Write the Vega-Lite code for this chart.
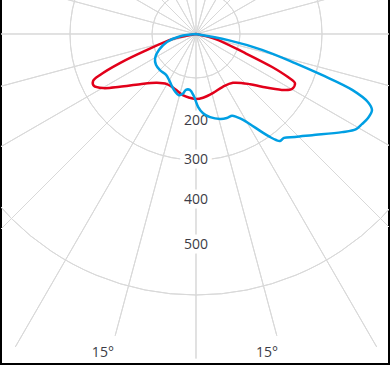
{
  "$schema": "https://vega.github.io/schema/vega-lite/v6.json",
  "width": 388,
  "height": 375,
  "autosize": {"type": "none"},
  "padding": {"left": 1, "top": -11, "right": 1, "bottom": 26},
  "background": "white",
  "config": {"view": {"stroke": "#000000", "strokeWidth": 2}},
  "datasets": {
    "rings": [{"ring": 100}, {"ring": 200}, {"ring": 300}, {"ring": 400}, {"ring": 500}, {"ring": 600}, {"ring": 700}, {"ring": 800}],
    "spokes": [
      {"deg": -165, "len": 815}, {"deg": -150, "len": 815}, {"deg": -135, "len": 815}, {"deg": -120, "len": 815},
      {"deg": -105, "len": 815}, {"deg": -90, "len": 815}, {"deg": -75, "len": 815}, {"deg": -60, "len": 815},
      {"deg": -45, "len": 815}, {"deg": -30, "len": 815}, {"deg": -15, "len": 715}, {"deg": 0, "len": 740},
      {"deg": 15, "len": 715}, {"deg": 30, "len": 815}, {"deg": 45, "len": 815}, {"deg": 60, "len": 815},
      {"deg": 75, "len": 815}, {"deg": 90, "len": 815}, {"deg": 105, "len": 815}, {"deg": 120, "len": 815},
      {"deg": 135, "len": 815}, {"deg": 150, "len": 815}, {"deg": 165, "len": 815}, {"deg": 180, "len": 815}
    ],
    "ringlabels": [
      {"deg": 0, "ring": 200, "label": "200"},
      {"deg": 0, "ring": 300, "label": "300"},
      {"deg": 0, "ring": 400, "label": "400"},
      {"deg": 0, "ring": 500, "label": "500"}
    ],
    "anglelabels": [
      {"deg": -15, "ring": 725, "label": "15°"},
      {"deg": 15, "ring": 725, "label": "15°"}
    ],
    "red": [
      {"x": 0, "y": 0}, {"x": -52, "y": 11}, {"x": -111, "y": 36}, {"x": -173, "y": 66}, {"x": -218, "y": 93},
      {"x": -234, "y": 107}, {"x": -232, "y": 118}, {"x": -211, "y": 123}, {"x": -173, "y": 120}, {"x": -127, "y": 114},
      {"x": -89, "y": 111}, {"x": -66, "y": 114}, {"x": -48, "y": 125}, {"x": -30, "y": 139}, {"x": -14, "y": 145},
      {"x": 0, "y": 148}, {"x": 16, "y": 145}, {"x": 39, "y": 134}, {"x": 61, "y": 120}, {"x": 84, "y": 111},
      {"x": 123, "y": 114}, {"x": 150, "y": 120}, {"x": 195, "y": 127}, {"x": 218, "y": 125}, {"x": 225, "y": 112},
      {"x": 209, "y": 98}, {"x": 173, "y": 75}, {"x": 111, "y": 43}, {"x": 43, "y": 11}, {"x": 0, "y": 0}
    ],
    "blue": [
      {"x": 0, "y": 0}, {"x": -36, "y": 5}, {"x": -66, "y": 18}, {"x": -84, "y": 36}, {"x": -93, "y": 55},
      {"x": -91, "y": 70}, {"x": -82, "y": 82}, {"x": -68, "y": 93}, {"x": -61, "y": 105}, {"x": -55, "y": 118},
      {"x": -48, "y": 130}, {"x": -39, "y": 139}, {"x": -30, "y": 136}, {"x": -23, "y": 127}, {"x": -14, "y": 127},
      {"x": -5, "y": 141}, {"x": 5, "y": 166}, {"x": 16, "y": 180}, {"x": 32, "y": 189}, {"x": 55, "y": 193},
      {"x": 70, "y": 191}, {"x": 82, "y": 186}, {"x": 93, "y": 189}, {"x": 107, "y": 195}, {"x": 123, "y": 205},
      {"x": 150, "y": 223}, {"x": 168, "y": 234}, {"x": 182, "y": 241}, {"x": 191, "y": 243}, {"x": 200, "y": 236},
      {"x": 225, "y": 234}, {"x": 264, "y": 230}, {"x": 332, "y": 223}, {"x": 364, "y": 216}, {"x": 377, "y": 205},
      {"x": 391, "y": 191}, {"x": 400, "y": 173}, {"x": 391, "y": 155}, {"x": 355, "y": 127}, {"x": 286, "y": 93},
      {"x": 225, "y": 66}, {"x": 150, "y": 36}, {"x": 73, "y": 14}, {"x": 0, "y": 0}
    ]
  },
  "layer": [
    {
      "data": {"name": "rings"},
      "mark": {"type": "arc", "filled": false, "stroke": "#d9d9d9", "strokeWidth": 1, "theta": 0, "theta2": 6.2832, "clip": true},
      "encoding": {
        "x": {"datum": 0, "type": "quantitative", "scale": {"domain": [-443.18, 438.64], "nice": false, "zero": false}, "axis": null},
        "y": {"datum": 0, "type": "quantitative", "scale": {"domain": [-102.27, 750], "reverse": true, "nice": false, "zero": false}, "axis": null},
        "radius": {"field": "ring", "type": "quantitative", "scale": {"type": "linear", "domain": [0, 100, 200, 300, 400, 500, 600, 700, 800], "range": [0, 44, 87, 126, 166, 211, 261, 305, 354], "nice": false, "zero": false}}
      }
    },
    {
      "data": {"name": "spokes"},
      "mark": {"type": "arc", "filled": false, "stroke": "#d9d9d9", "strokeWidth": 1, "clip": true},
      "encoding": {
        "x": {"datum": 0, "type": "quantitative"},
        "y": {"datum": 0, "type": "quantitative"},
        "theta": {"field": "deg", "type": "quantitative", "stack": null, "scale": {"domain": [-180, 180], "range": [6.283185, 0], "nice": false, "zero": false}},
        "theta2": {"field": "deg"},
        "radius": {"field": "len", "type": "quantitative"}
      }
    },
    {
      "data": {"name": "ringlabels"},
      "mark": {"type": "text", "font": "Open Sans", "fontSize": 14, "align": "center", "baseline": "middle", "fill": "white", "stroke": "white", "strokeWidth": 9},
      "encoding": {
        "x": {"datum": 0, "type": "quantitative"},
        "y": {"datum": 0, "type": "quantitative"},
        "theta": {"field": "deg", "type": "quantitative", "stack": null},
        "radius": {"field": "ring", "type": "quantitative"},
        "text": {"field": "label"}
      }
    },
    {
      "data": {"name": "ringlabels"},
      "mark": {"type": "text", "font": "Open Sans", "fontSize": 14, "align": "center", "baseline": "middle", "fill": "#3c3c46"},
      "encoding": {
        "x": {"datum": 0, "type": "quantitative"},
        "y": {"datum": 0, "type": "quantitative"},
        "theta": {"field": "deg", "type": "quantitative", "stack": null},
        "radius": {"field": "ring", "type": "quantitative"},
        "text": {"field": "label"}
      }
    },
    {
      "data": {"name": "anglelabels"},
      "mark": {"type": "text", "font": "Open Sans", "fontSize": 14, "align": "right", "baseline": "middle", "dy": 13, "fill": "#3c3c46"},
      "encoding": {
        "x": {"datum": 0, "type": "quantitative"},
        "y": {"datum": 0, "type": "quantitative"},
        "theta": {"field": "deg", "type": "quantitative", "stack": null},
        "radius": {"field": "ring", "type": "quantitative"},
        "text": {"field": "label"}
      }
    },
    {
      "data": {"name": "red"},
      "mark": {"type": "line", "stroke": "#e2001a", "strokeWidth": 2.5, "interpolate": "catmull-rom", "clip": true},
      "encoding": {
        "x": {"field": "x", "type": "quantitative"},
        "y": {"field": "y", "type": "quantitative"},
        "order": {"value": null}
      }
    },
    {
      "data": {"name": "blue"},
      "mark": {"type": "line", "stroke": "#009fe3", "strokeWidth": 2.5, "interpolate": "catmull-rom", "clip": true},
      "encoding": {
        "x": {"field": "x", "type": "quantitative"},
        "y": {"field": "y", "type": "quantitative"},
        "order": {"value": null}
      }
    }
  ]
}
